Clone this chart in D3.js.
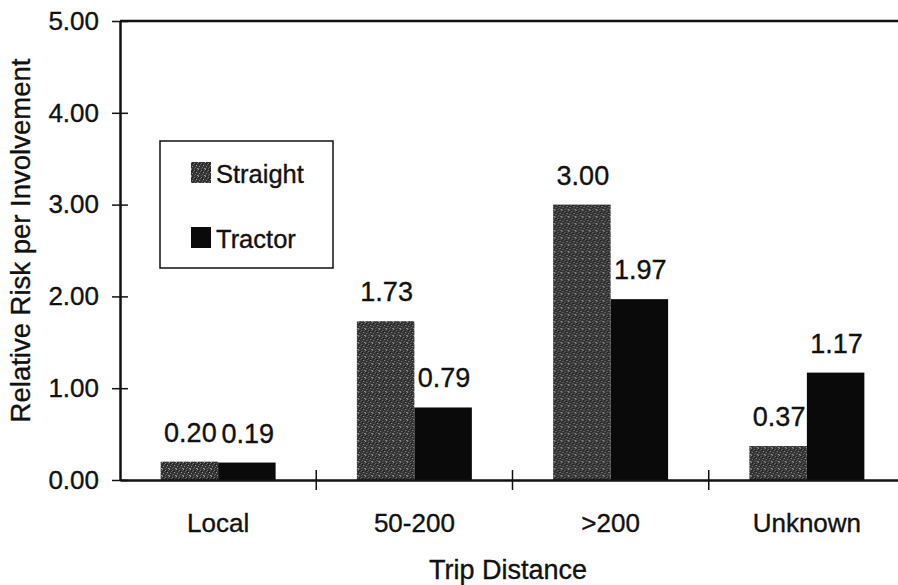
<!DOCTYPE html>
<html>
<head>
<meta charset="utf-8">
<script src="https://cdn.jsdelivr.net/npm/d3@7/dist/d3.min.js"></script>
<style>
  html, body { margin: 0; padding: 0; background: #fff; }
  svg { display: block; }
  text { font-family: "Liberation Sans", Arial, Helvetica, sans-serif; fill: #111; stroke: #111; stroke-width: 0.35px; }
</style>
</head>
<body>
<svg id="chart" width="898" height="585"></svg>
<script>
// Trip distance categories and relative risk per involvement
const categories = ["Local", "50-200", ">200", "Unknown"];
const seriesNames = ["Straight", "Tractor"];
const straightValues = [0.20, 1.73, 3.00, 0.37];
const tractorValues = [0.19, 0.79, 1.97, 1.17];
const yTicks = [0, 1, 2, 3, 4, 5];
const yTitle = "Relative Risk per Involvement";
const xTitle = "Trip Distance";

const rows = categories.map((c, i) => ({
  category: c,
  values: [
    { series: "Straight", value: straightValues[i] },
    { series: "Tractor", value: tractorValues[i] }
  ]
}));

const svg = d3.select("#chart");
const plotLeft = 120, plotRight = 905, plotTop = 21, plotBottom = 480;

// stippled fill for the straight-truck bars
const defs = svg.append("defs");
const pat = defs.append("pattern")
  .attr("id", "stipple")
  .attr("patternUnits", "userSpaceOnUse")
  .attr("width", 7).attr("height", 7);
pat.append("rect").attr("width", 7).attr("height", 7).attr("fill", "#333");
[[0,0,"#9a9a9a"],[3,1,"#7e7e7e"],[5,3,"#a5a5a5"],[1,4,"#8a8a8a"],[4,5,"#6e6e6e"],
 [6,6,"#999"],[2,2,"#666"],[6,1,"#5a5a5a"],[0,6,"#777"],[3,6,"#5e5e5e"],[4,2,"#111"],[1,1,"#1a1a1a"]]
  .forEach(([x, y, c]) => pat.append("rect").attr("x", x).attr("y", y)
    .attr("width", 1).attr("height", 1).attr("fill", c));

const fills = { Straight: "url(#stipple)", Tractor: "#0a0a0a" };

const x0 = d3.scaleBand().domain(categories).range([plotLeft, plotRight]).padding(0);
const x1 = d3.scaleBand().domain(seriesNames).range([0, x0.step()])
  .paddingInner(0).paddingOuter(0.707);
const y = d3.scaleLinear().domain([0, 5]).range([plotBottom, plotTop]);

// bars
const groups = svg.append("g").selectAll("g").data(rows).join("g")
  .attr("transform", d => `translate(${x0(d.category)},0)`);

groups.selectAll("rect").data(d => d.values).join("rect")
  .attr("x", d => x1(d.series))
  .attr("y", d => y(d.value))
  .attr("width", x1.bandwidth())
  .attr("height", d => y(0) - y(d.value))
  .attr("fill", d => fills[d.series]);

// value labels
groups.selectAll("text").data(d => d.values).join("text")
  .attr("x", d => x1(d.series) + x1.bandwidth() / 2 + 1)
  .attr("y", d => y(d.value) - 20)
  .attr("text-anchor", "middle")
  .attr("font-size", 27)
  .text(d => d.value.toFixed(2));

// frame top line
svg.append("line")
  .attr("x1", plotLeft).attr("x2", 898)
  .attr("y1", y(5)).attr("y2", y(5))
  .attr("stroke", "#111").attr("stroke-width", 2.5);

// y axis
const yAxis = d3.axisLeft(y).tickValues(yTicks)
  .tickFormat(d3.format(".2f")).tickSizeInner(8).tickSizeOuter(0).tickPadding(12);
const gy = svg.append("g").attr("transform", `translate(${plotLeft},0)`).call(yAxis);
gy.select(".domain").attr("stroke", "#111").attr("stroke-width", 2.5);
gy.selectAll(".tick line").attr("x2", 8).attr("x1", -8)
  .attr("stroke", "#111").attr("stroke-width", 1.5);
gy.selectAll(".tick text")
  .attr("x", -21)
  .attr("font-size", 26).attr("font-family", "Liberation Sans, Arial, sans-serif")
  .attr("fill", "#111");

// x axis
const xAxis = d3.axisBottom(x0).tickSize(0).tickSizeOuter(0).tickPadding(34);
const gx = svg.append("g").attr("transform", `translate(0,${plotBottom})`).call(xAxis);
gx.select(".domain").attr("stroke", "#111").attr("stroke-width", 2.5);
gx.selectAll(".tick text")
  .attr("font-size", 26).attr("font-family", "Liberation Sans, Arial, sans-serif")
  .attr("fill", "#111");

// separators between categories
const sepPositions = categories.slice(1).map(c => x0(c));
svg.append("g").selectAll("line").data(sepPositions).join("line")
  .attr("x1", d => d).attr("x2", d => d)
  .attr("y1", plotBottom - 10).attr("y2", plotBottom + 10)
  .attr("stroke", "#111").attr("stroke-width", 1.5);

// axis titles
svg.append("text")
  .attr("x", 508).attr("y", 579)
  .attr("text-anchor", "middle").attr("font-size", 27)
  .text(xTitle);

svg.append("text")
  .attr("transform", `translate(30,${(53 + 428) / 2}) rotate(-90)`)
  .attr("text-anchor", "middle").attr("font-size", 27.5)
  .text(yTitle);

// legend
const legend = svg.append("g").attr("transform", "translate(160,141)");
legend.append("rect")
  .attr("width", 173).attr("height", 127)
  .attr("fill", "#fff").attr("stroke", "#111").attr("stroke-width", 1.5);
const items = legend.selectAll("g.item").data(seriesNames).join("g")
  .attr("class", "item")
  .attr("transform", (d, i) => `translate(31,${21 + i * 65})`);
items.append("rect").attr("width", 20).attr("height", 21)
  .attr("fill", d => fills[d]);
items.append("text").attr("x", 25).attr("y", 21)
  .attr("font-size", 25.5).text(d => d);
</script>
</body>
</html>
